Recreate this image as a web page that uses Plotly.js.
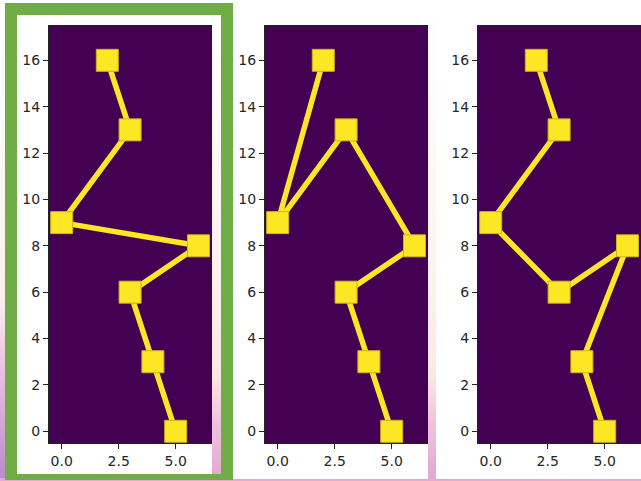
<!DOCTYPE html>
<html>
<head>
<meta charset="utf-8">
<script src="https://cdn.plot.ly/plotly-3.0.1.min.js"></script>
<style>html,body{margin:0;padding:0;background:#fff;}#chart{width:641px;height:481px;}</style>
</head>
<body>
<div id="chart"></div>
<script>
// Data (three panels, same points in different orders)
const panel1X = [2, 3, 0, 6, 3, 4, 5];
const panel1Y = [16, 13, 9, 8, 6, 3, 0];
const panel2X = [2, 0, 3, 6, 3, 4, 5];
const panel2Y = [16, 9, 13, 8, 6, 3, 0];
const panel3X = [2, 3, 0, 3, 6, 4, 5];
const panel3Y = [16, 13, 9, 6, 8, 3, 0];
const xTickVals = [0, 2.5, 5];
const xTickText = ["0.0", "2.5", "5.0"];
const yTickVals = [0, 2, 4, 6, 8, 10, 12, 14, 16];
const yTickText = ["0", "2", "4", "6", "8", "10", "12", "14", "16"];

const W = 641, H = 481;
const px = v => v / W;
const py = v => 1 - v / H;

const lineColor = '#fde725';
const bg = '#440154';

function trace(x, y, n) {
  return {
    x: x, y: y, type: 'scatter', mode: 'lines+markers',
    xaxis: 'x' + (n === 1 ? '' : n), yaxis: 'y' + (n === 1 ? '' : n),
    line: {color: lineColor, width: 5.5},
    marker: {symbol: 'square', size: 22, color: lineColor, line: {color: '#c9b51c', width: 1}},
    cliponaxis: true, showlegend: false, hoverinfo: 'none'
  };
}

const fontTick = {family: 'DejaVu Sans', size: 14, color: '#262626'};
function xax(left) {
  return {
    domain: [px(left), px(left + 163)], range: [-0.557, 6.592],
    tickmode: 'array', tickvals: xTickVals, ticktext: xTickText,
    ticks: 'outside', ticklen: 5, tickcolor: '#222', tickwidth: 1,
    showline: true, linecolor: '#222', linewidth: 1, mirror: true,
    showgrid: false, zeroline: false, tickfont: fontTick, fixedrange: true
  };
}
function yax(anchor) {
  return {
    domain: [py(443), py(26)], range: [-0.505, 17.48], anchor: anchor,
    tickmode: 'array', tickvals: yTickVals, ticktext: yTickText,
    ticks: 'outside', ticklen: 5, tickcolor: '#222', tickwidth: 1,
    showline: true, linecolor: '#222', linewidth: 1, mirror: false,
    showgrid: false, zeroline: false, tickfont: fontTick, fixedrange: true
  };
}

const bgSvg = '<svg xmlns="http://www.w3.org/2000/svg" width="641" height="481">' +
  '<defs><linearGradient id="g" x1="0" y1="0" x2="0" y2="1">' +
  '<stop offset="0" stop-color="#ffffff"/>' +
  '<stop offset="0.55" stop-color="#fdf2f0"/>' +
  '<stop offset="0.78" stop-color="#fbe8e4"/>' +
  '<stop offset="0.88" stop-color="#efc3dc"/>' +
  '<stop offset="1" stop-color="#e2a6d3"/>' +
  '</linearGradient>' +
  '<linearGradient id="h" x1="0" y1="0" x2="0" y2="1">' +
  '<stop offset="0" stop-color="#fdeef2"/>' +
  '<stop offset="0.4" stop-color="#e9bfdf"/>' +
  '<stop offset="1" stop-color="#b88bcb"/></linearGradient></defs>' +
  '<rect width="641" height="481" fill="url(#g)"/>' +
  '<rect x="0" y="300" width="6" height="181" fill="url(#h)"/>' +
  '<rect x="0" y="478" width="641" height="3" fill="#e6a9d6"/>' +
  '</svg>';

const shapes = [
  // white cards
  {type: 'rect', xref: 'paper', yref: 'paper', x0: px(17), x1: px(212), y0: py(474), y1: py(15), fillcolor: '#ffffff', line: {width: 0}, layer: 'below'},
  {type: 'rect', xref: 'paper', yref: 'paper', x0: px(233), x1: px(428), y0: py(479), y1: py(0), fillcolor: '#ffffff', line: {width: 0}, layer: 'below'},
  {type: 'rect', xref: 'paper', yref: 'paper', x0: px(436), x1: px(641), y0: py(479), y1: py(0), fillcolor: '#ffffff', line: {width: 0}, layer: 'below'},
  // plot area backgrounds (drawn after the cards)
  {type: 'rect', xref: 'x domain', yref: 'y domain', x0: 0, x1: 1, y0: 0, y1: 1, fillcolor: bg, line: {width: 0}, layer: 'below'},
  {type: 'rect', xref: 'x2 domain', yref: 'y2 domain', x0: 0, x1: 1, y0: 0, y1: 1, fillcolor: bg, line: {width: 0}, layer: 'below'},
  {type: 'rect', xref: 'x3 domain', yref: 'y3 domain', x0: 0, x1: 1, y0: 0, y1: 1, fillcolor: bg, line: {width: 0}, layer: 'below'},
  // green frame
  {type: 'rect', xref: 'paper', yref: 'paper', x0: px(5), x1: px(233), y0: py(15), y1: py(3), fillcolor: '#70ad47', line: {width: 0}, layer: 'above'},
  {type: 'rect', xref: 'paper', yref: 'paper', x0: px(5), x1: px(233), y0: py(480), y1: py(474), fillcolor: '#70ad47', line: {width: 0}, layer: 'above'},
  {type: 'rect', xref: 'paper', yref: 'paper', x0: px(5), x1: px(17), y0: py(480), y1: py(3), fillcolor: '#70ad47', line: {width: 0}, layer: 'above'},
  {type: 'rect', xref: 'paper', yref: 'paper', x0: px(221), x1: px(233), y0: py(480), y1: py(3), fillcolor: '#70ad47', line: {width: 0}, layer: 'above'}
];

const layout = {
  width: W, height: H,
  margin: {l: 0, r: 0, t: 0, b: 0, pad: 0},
  paper_bgcolor: '#ffffff', plot_bgcolor: bg,
  font: {family: 'DejaVu Sans', color: '#262626'},
  xaxis: xax(49), yaxis: yax('x'),
  xaxis2: Object.assign(xax(265), {anchor: 'y2'}), yaxis2: yax('x2'),
  xaxis3: Object.assign(xax(478), {anchor: 'y3'}), yaxis3: yax('x3'),
  images: [{source: 'data:image/svg+xml;charset=utf-8,' + encodeURIComponent(bgSvg), xref: 'paper', yref: 'paper', x: 0, y: 1, sizex: 1, sizey: 1, sizing: 'stretch', layer: 'below', xanchor: 'left', yanchor: 'top'}],
  shapes: shapes
};
layout.xaxis.anchor = 'y';

Plotly.newPlot('chart', [trace(panel1X, panel1Y, 1), trace(panel2X, panel2Y, 2), trace(panel3X, panel3Y, 3)], layout, {displayModeBar: false, staticPlot: true});
</script>
</body>
</html>
